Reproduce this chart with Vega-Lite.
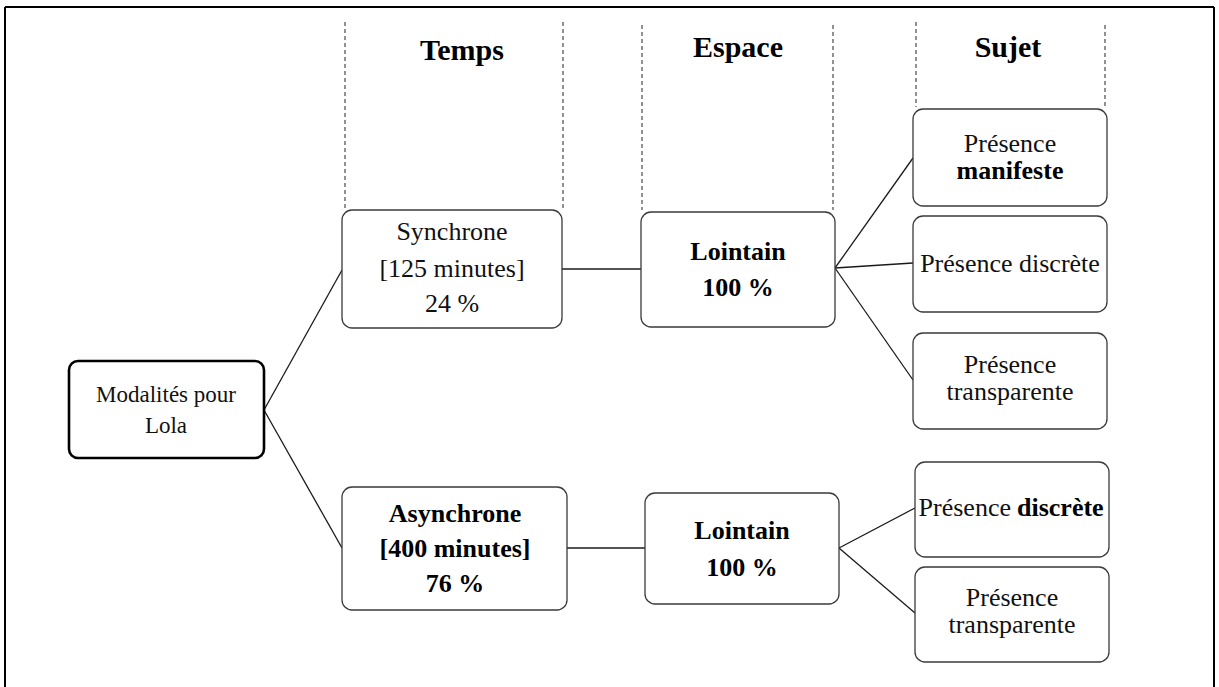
{
  "$schema": "https://vega.github.io/schema/vega-lite/v6.json",
  "width": 1219,
  "height": 687,
  "autosize": {"type": "none"},
  "padding": 0,
  "background": "white",
  "config": {"view": {"stroke": null}, "axis": {"disable": true}},
  "datasets": {
    "lines": [
      {"role": "border", "x1": 5, "y1": 7, "x2": 1214, "y2": 7},
      {"role": "border", "x1": 5, "y1": 7, "x2": 5, "y2": 687},
      {"role": "border", "x1": 1214, "y1": 7, "x2": 1214, "y2": 687},
      {"role": "divider", "x1": 345, "y1": 22, "x2": 345, "y2": 208},
      {"role": "divider", "x1": 563, "y1": 22, "x2": 563, "y2": 208},
      {"role": "divider", "x1": 642, "y1": 25, "x2": 642, "y2": 210},
      {"role": "divider", "x1": 833, "y1": 25, "x2": 833, "y2": 210},
      {"role": "divider", "x1": 916, "y1": 22, "x2": 916, "y2": 107},
      {"role": "divider", "x1": 1105, "y1": 25, "x2": 1105, "y2": 107},
      {"role": "connector", "x1": 264, "y1": 410, "x2": 342, "y2": 270},
      {"role": "connector", "x1": 264, "y1": 410, "x2": 342, "y2": 548},
      {"role": "connector", "x1": 562, "y1": 269, "x2": 641, "y2": 269},
      {"role": "connector", "x1": 567, "y1": 548, "x2": 645, "y2": 548},
      {"role": "connector", "x1": 835, "y1": 268, "x2": 913, "y2": 158},
      {"role": "connector", "x1": 835, "y1": 268, "x2": 913, "y2": 263},
      {"role": "connector", "x1": 835, "y1": 268, "x2": 913, "y2": 380},
      {"role": "connector", "x1": 839, "y1": 548, "x2": 915, "y2": 508},
      {"role": "connector", "x1": 839, "y1": 548, "x2": 915, "y2": 613}
    ],
    "boxes": [
      {"role": "root", "name": "Modalités", "x1": 69, "y1": 361, "x2": 264, "y2": 458},
      {"role": "node", "name": "Synchrone", "x1": 342, "y1": 210, "x2": 562, "y2": 328},
      {"role": "node", "name": "Asynchrone", "x1": 342, "y1": 487, "x2": 567, "y2": 610},
      {"role": "node", "name": "Lointain 1", "x1": 641, "y1": 212, "x2": 835, "y2": 327},
      {"role": "node", "name": "Lointain 2", "x1": 645, "y1": 493, "x2": 839, "y2": 604},
      {"role": "node", "name": "Présence manifeste", "x1": 913, "y1": 109, "x2": 1107, "y2": 206},
      {"role": "node", "name": "Présence discrète 1", "x1": 913, "y1": 216, "x2": 1107, "y2": 312},
      {"role": "node", "name": "Présence transparente 1", "x1": 913, "y1": 333, "x2": 1107, "y2": 429},
      {"role": "node", "name": "Présence discrète 2", "x1": 915, "y1": 462, "x2": 1109, "y2": 557},
      {"role": "node", "name": "Présence transparente 2", "x1": 915, "y1": 567, "x2": 1109, "y2": 662}
    ],
    "texts": [
      {"role": "header", "x": 462, "y": 60, "text": "Temps"},
      {"role": "header", "x": 738, "y": 57, "text": "Espace"},
      {"role": "header", "x": 1008, "y": 57, "text": "Sujet"},
      {"role": "root", "x": 166, "y": 402, "text": "Modalités pour"},
      {"role": "root", "x": 166, "y": 433, "text": "Lola"},
      {"role": "label", "x": 452, "y": 240, "text": "Synchrone"},
      {"role": "label", "x": 452, "y": 277, "text": "[125  minutes]"},
      {"role": "label", "x": 452, "y": 312, "text": "24 %"},
      {"role": "bold", "x": 738, "y": 260, "text": "Lointain"},
      {"role": "bold", "x": 738, "y": 296, "text": "100 %"},
      {"role": "bold", "x": 455, "y": 522, "text": "Asynchrone"},
      {"role": "bold", "x": 455, "y": 557, "text": "[400 minutes]"},
      {"role": "bold", "x": 455, "y": 592, "text": "76 %"},
      {"role": "bold", "x": 742, "y": 539, "text": "Lointain"},
      {"role": "bold", "x": 742, "y": 576, "text": "100 %"},
      {"role": "label", "x": 1010, "y": 152, "text": "Présence"},
      {"role": "bold", "x": 1010, "y": 179, "text": "manifeste"},
      {"role": "label", "x": 1010, "y": 272, "text": "Présence discrète"},
      {"role": "label", "x": 1010, "y": 373, "text": "Présence"},
      {"role": "label", "x": 1010, "y": 400, "text": "transparente"},
      {"role": "splitLeft", "x": 1011, "y": 516, "text": "Présence"},
      {"role": "splitRight", "x": 1017, "y": 516, "text": "discrète"},
      {"role": "label", "x": 1012, "y": 606, "text": "Présence"},
      {"role": "label", "x": 1012, "y": 633, "text": "transparente"}
    ]
  },
  "layer": [
    {
      "data": {"name": "lines"},
      "transform": [{"filter": "datum.role === 'border'"}],
      "mark": {"type": "rule", "color": "#000000", "strokeWidth": 2},
      "encoding": {
        "x": {"field": "x1", "type": "quantitative", "scale": {"domain": [0, 1219], "nice": false, "zero": false}, "axis": null},
        "y": {"field": "y1", "type": "quantitative", "scale": {"domain": [0, 687], "nice": false, "zero": false, "reverse": true}, "axis": null},
        "x2": {"field": "x2"},
        "y2": {"field": "y2"}
      }
    },
    {
      "data": {"name": "lines"},
      "transform": [{"filter": "datum.role === 'divider'"}],
      "mark": {"type": "rule", "color": "#222222", "strokeWidth": 1, "strokeDash": [4, 3]},
      "encoding": {
        "x": {"field": "x1", "type": "quantitative", "axis": null},
        "y": {"field": "y1", "type": "quantitative", "axis": null},
        "x2": {"field": "x2"},
        "y2": {"field": "y2"}
      }
    },
    {
      "data": {"name": "lines"},
      "transform": [{"filter": "datum.role === 'connector'"}],
      "mark": {"type": "rule", "color": "#1a1a1a", "strokeWidth": 1.3},
      "encoding": {
        "x": {"field": "x1", "type": "quantitative", "axis": null},
        "y": {"field": "y1", "type": "quantitative", "axis": null},
        "x2": {"field": "x2"},
        "y2": {"field": "y2"}
      }
    },
    {
      "data": {"name": "boxes"},
      "transform": [{"filter": "datum.role === 'node'"}],
      "mark": {"type": "rect", "fill": "white", "stroke": "#3a3a3a", "strokeWidth": 1.3, "cornerRadius": 10},
      "encoding": {
        "x": {"field": "x1", "type": "quantitative", "axis": null},
        "y": {"field": "y1", "type": "quantitative", "axis": null},
        "x2": {"field": "x2"},
        "y2": {"field": "y2"}
      }
    },
    {
      "data": {"name": "boxes"},
      "transform": [{"filter": "datum.role === 'root'"}],
      "mark": {"type": "rect", "fill": "white", "stroke": "#000000", "strokeWidth": 2.6, "cornerRadius": 9},
      "encoding": {
        "x": {"field": "x1", "type": "quantitative", "axis": null},
        "y": {"field": "y1", "type": "quantitative", "axis": null},
        "x2": {"field": "x2"},
        "y2": {"field": "y2"}
      }
    },
    {
      "data": {"name": "texts"},
      "transform": [{"filter": "datum.role === 'header'"}],
      "mark": {"type": "text", "font": "Liberation Serif", "fontSize": 30, "fontWeight": "bold", "align": "center", "baseline": "alphabetic", "color": "#000000"},
      "encoding": {
        "x": {"field": "x", "type": "quantitative", "axis": null},
        "y": {"field": "y", "type": "quantitative", "axis": null},
        "text": {"field": "text"}
      }
    },
    {
      "data": {"name": "texts"},
      "transform": [{"filter": "datum.role === 'root'"}],
      "mark": {"type": "text", "font": "Liberation Serif", "fontSize": 23, "align": "center", "baseline": "alphabetic", "color": "#111111"},
      "encoding": {
        "x": {"field": "x", "type": "quantitative", "axis": null},
        "y": {"field": "y", "type": "quantitative", "axis": null},
        "text": {"field": "text"}
      }
    },
    {
      "data": {"name": "texts"},
      "transform": [{"filter": "datum.role === 'label'"}],
      "mark": {"type": "text", "font": "Liberation Serif", "fontSize": 26, "align": "center", "baseline": "alphabetic", "color": "#111111"},
      "encoding": {
        "x": {"field": "x", "type": "quantitative", "axis": null},
        "y": {"field": "y", "type": "quantitative", "axis": null},
        "text": {"field": "text"}
      }
    },
    {
      "data": {"name": "texts"},
      "transform": [{"filter": "datum.role === 'bold'"}],
      "mark": {"type": "text", "font": "Liberation Serif", "fontSize": 26, "fontWeight": "bold", "align": "center", "baseline": "alphabetic", "color": "#000000"},
      "encoding": {
        "x": {"field": "x", "type": "quantitative", "axis": null},
        "y": {"field": "y", "type": "quantitative", "axis": null},
        "text": {"field": "text"}
      }
    },
    {
      "data": {"name": "texts"},
      "transform": [{"filter": "datum.role === 'splitLeft'"}],
      "mark": {"type": "text", "font": "Liberation Serif", "fontSize": 26, "align": "right", "baseline": "alphabetic", "color": "#111111"},
      "encoding": {
        "x": {"field": "x", "type": "quantitative", "axis": null},
        "y": {"field": "y", "type": "quantitative", "axis": null},
        "text": {"field": "text"}
      }
    },
    {
      "data": {"name": "texts"},
      "transform": [{"filter": "datum.role === 'splitRight'"}],
      "mark": {"type": "text", "font": "Liberation Serif", "fontSize": 26, "fontWeight": "bold", "align": "left", "baseline": "alphabetic", "color": "#000000"},
      "encoding": {
        "x": {"field": "x", "type": "quantitative", "axis": null},
        "y": {"field": "y", "type": "quantitative", "axis": null},
        "text": {"field": "text"}
      }
    }
  ]
}
